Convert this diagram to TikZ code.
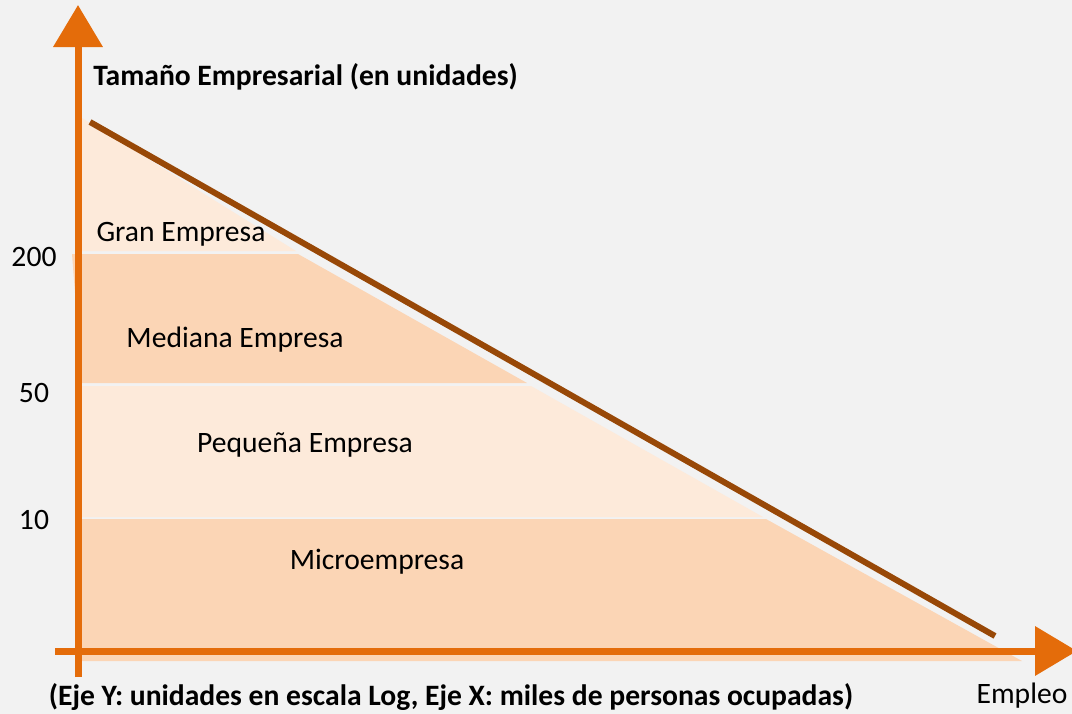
\documentclass[tikz,border=0pt]{standalone}
\usepackage{fontspec}
\setmainfont{Carlito}
\usetikzlibrary{arrows.meta}
\usetikzlibrary{positioning}
\definecolor{fondo}{HTML}{F2F2F2}
\definecolor{naranja}{HTML}{E46C0A}
\definecolor{marron}{HTML}{984807}
\definecolor{claro}{HTML}{FDEADA}
\definecolor{oscuro}{HTML}{FBD5B5}

\begin{document}
\begin{tikzpicture}[x=0.75pt,y=-0.75pt,
    ejeflecha/.style={draw=naranja,line width=5.25pt,-{Triangle[width=36pt,length=31.5pt]}},
    rotulo/.style={inner sep=0pt,anchor=base,font=\fontsize{22.2}{26}\selectfont},
    negrita/.style={rotulo,font=\fontsize{22.2}{26}\selectfont\bfseries}]
                \fill[fondo] (0,0) rectangle (1072,714);
                \useasboundingbox (0,0) rectangle (1072,714);
                % franjas
                \fill[claro] (82,118) -- (296,251) -- (82,251) -- cycle;
                \fill[oscuro] (72,254) -- (298,254) -- (527,383) -- (82,383) -- cycle;
                \fill[claro] (82,386) -- (531,386) -- (763,517) -- (82,517) -- cycle;
                \fill[oscuro] (82,519) -- (766,519) -- (1022,661) -- (82,661) -- cycle;
                % ejes
                \coordinate (ypie) at (78,677);
                \coordinate (ytope) at (78,5);
                \coordinate (xpie) at (55,651);
                \coordinate (xtope) at (1077,651);
                \draw[ejeflecha] (ypie) -- (ytope);
                \draw[ejeflecha] (xpie) -- (xtope);
                \coordinate (rini) at (90,122);
                \coordinate (rfin) at (995,636);
                \draw[marron,line width=4.5pt] (rini) -- (rfin);
                % textos
                \node[negrita,anchor=base west] (titulo) at (93,85) {Tamaño Empresarial (en unidades)};
                \node[rotulo] (gran) at (181,241) {Gran Empresa};
                \node[rotulo] (mediana) at (235,347) {Mediana Empresa};
                \node[rotulo] (pequena) at (305,452) {Pequeña Empresa};
                \node[rotulo] (micro) at (377,569) {Microempresa};
                \node[rotulo] (n200) at (34,266) {200};
                \node[rotulo] (n50) at (34,402) {50};
                \node[rotulo] (n10) at (34,529) {10};
                \node[negrita] (nota) at (451,705) {(Eje Y: unidades en escala Log, Eje X: miles de personas ocupadas)};
                \node[rotulo] (empleo) at (1022,703) {Empleo};
            \end{tikzpicture}
\end{document}
